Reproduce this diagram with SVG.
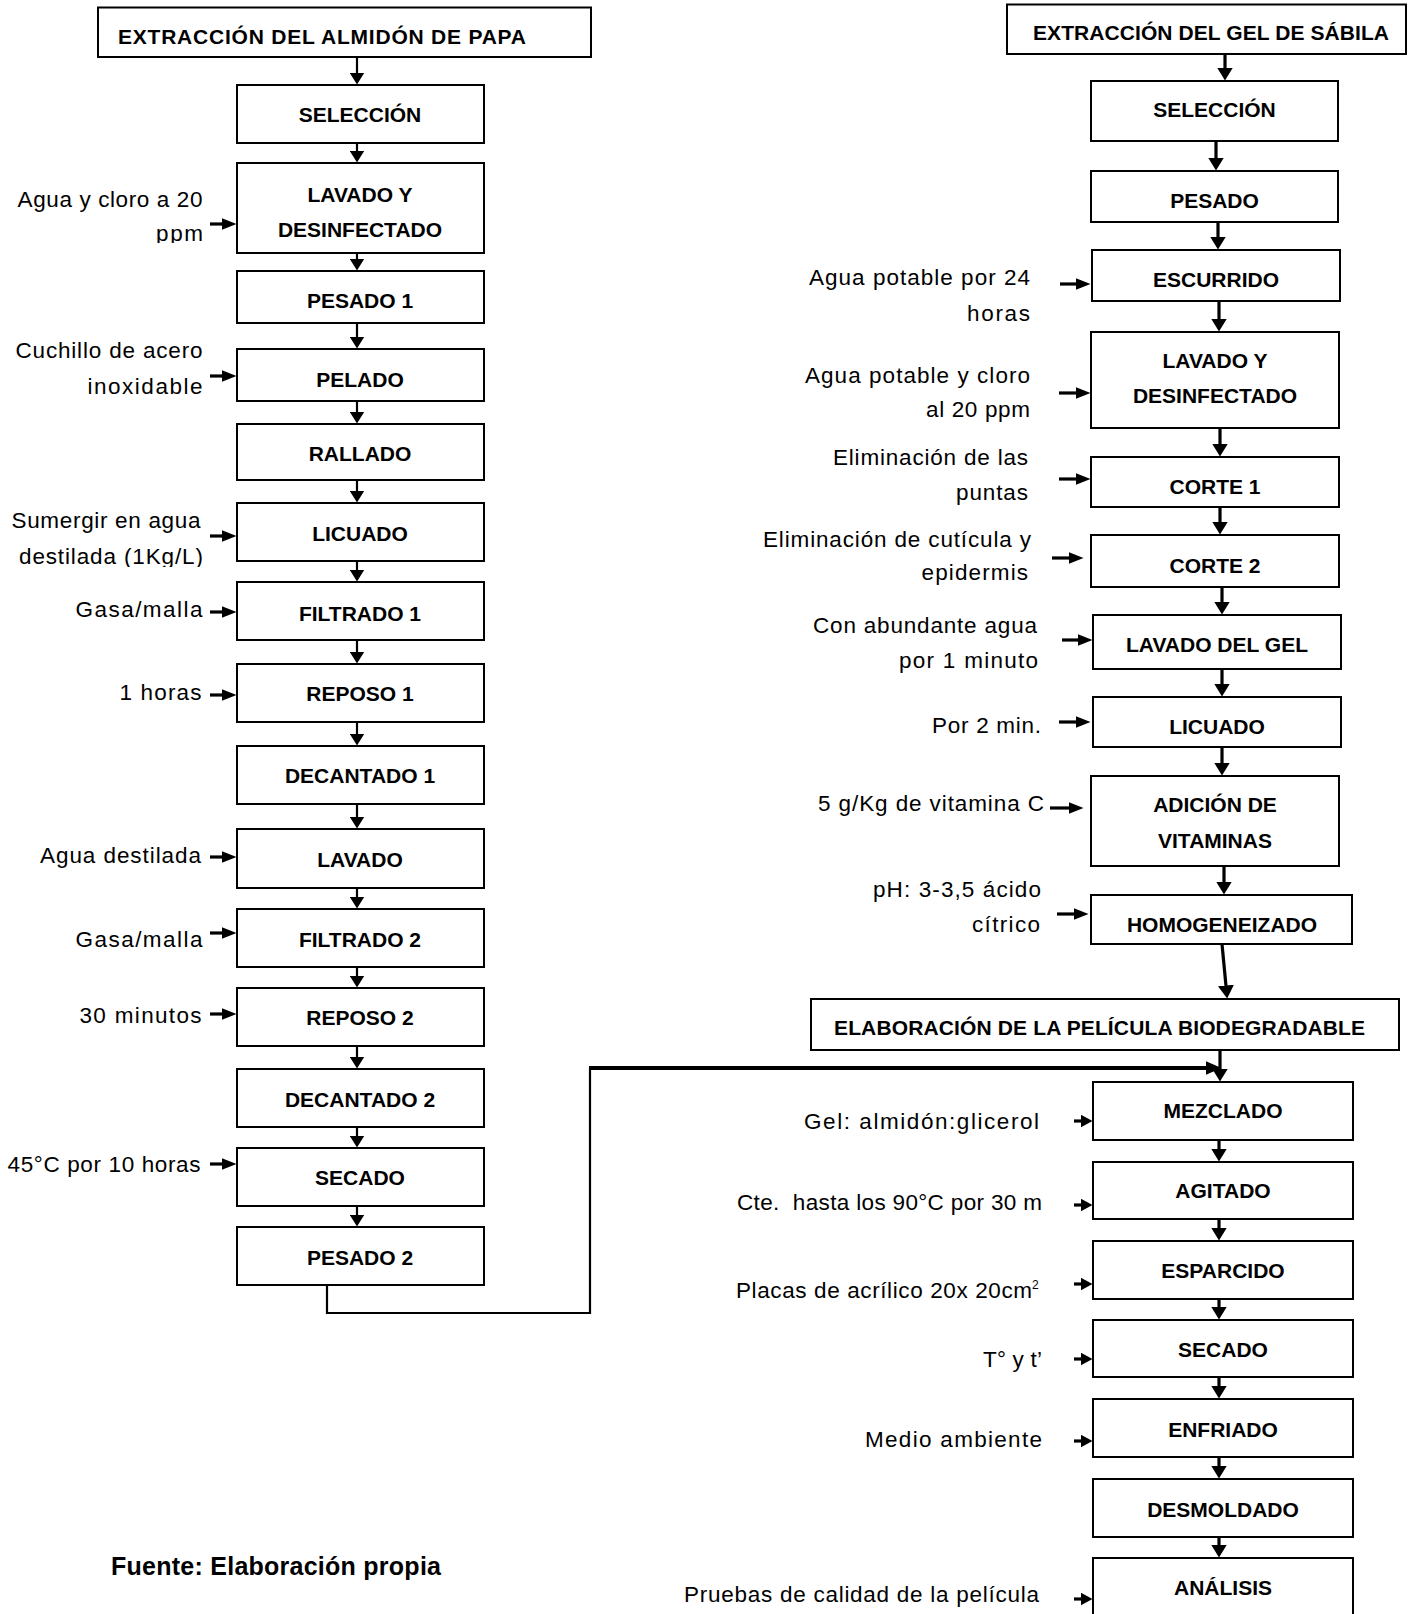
<svg xmlns="http://www.w3.org/2000/svg" width="1416" height="1614" viewBox="0 0 1416 1614">
<style>
.box{fill:#fff;stroke:#000;stroke-width:2}
.bt{font-family:"Liberation Sans",Arial,sans-serif;font-weight:bold;font-size:21px;text-anchor:middle;fill:#000}
.tt{font-family:"Liberation Sans",Arial,sans-serif;font-weight:bold;font-size:21px;fill:#000}
.lb{font-family:"Liberation Sans",Arial,sans-serif;font-size:22.5px;fill:#000}
.ft{font-family:"Liberation Sans",Arial,sans-serif;font-weight:bold;font-size:25px;fill:#000}
.c2{stroke:#000;stroke-width:2.2;fill:none}
.c3{stroke:#000;stroke-width:3.2;fill:none}
</style>
<defs>
<marker id="mL" markerUnits="userSpaceOnUse" orient="auto" markerWidth="12" markerHeight="15" refX="0.5" refY="7.5"><path d="M0,0 L12,7.5 L0,15 Z" fill="#000"/></marker>
<marker id="mR" markerUnits="userSpaceOnUse" orient="auto" markerWidth="13" markerHeight="16" refX="0.5" refY="8"><path d="M0,0 L13,8 L0,16 Z" fill="#000"/></marker>
<marker id="mS" markerUnits="userSpaceOnUse" orient="auto" markerWidth="15" markerHeight="12" refX="0.5" refY="6"><path d="M0,0 L15,6 L0,12 Z" fill="#000"/></marker>
<marker id="mB" markerUnits="userSpaceOnUse" orient="auto" markerWidth="12" markerHeight="13" refX="0.5" refY="6.5"><path d="M0,0 L12,6.5 L0,13 Z" fill="#000"/></marker>
<marker id="mC" markerUnits="userSpaceOnUse" orient="auto" markerWidth="16" markerHeight="14" refX="0.5" refY="7"><path d="M0,0 L16,7 L0,14 Z" fill="#000"/></marker>
<clipPath id="clipPpm"><rect x="0" y="0" width="232" height="243"/></clipPath>
<clipPath id="clipDest"><rect x="0" y="540" width="232" height="27"/></clipPath>
</defs>

<g id="connectors">
<line class="c2" x1="357" y1="57" x2="357" y2="73" marker-end="url(#mL)"/>
<line class="c2" x1="357" y1="143" x2="357" y2="151" marker-end="url(#mL)"/>
<line class="c2" x1="357" y1="253" x2="357" y2="259" marker-end="url(#mL)"/>
<line class="c2" x1="357" y1="323" x2="357" y2="337" marker-end="url(#mL)"/>
<line class="c2" x1="357" y1="401" x2="357" y2="412" marker-end="url(#mL)"/>
<line class="c2" x1="357" y1="480" x2="357" y2="491" marker-end="url(#mL)"/>
<line class="c2" x1="357" y1="561" x2="357" y2="570" marker-end="url(#mL)"/>
<line class="c2" x1="357" y1="640" x2="357" y2="652" marker-end="url(#mL)"/>
<line class="c2" x1="357" y1="722" x2="357" y2="734" marker-end="url(#mL)"/>
<line class="c2" x1="357" y1="804" x2="357" y2="817" marker-end="url(#mL)"/>
<line class="c2" x1="357" y1="888" x2="357" y2="897" marker-end="url(#mL)"/>
<line class="c2" x1="357" y1="967" x2="357" y2="976" marker-end="url(#mL)"/>
<line class="c2" x1="357" y1="1046" x2="357" y2="1057" marker-end="url(#mL)"/>
<line class="c2" x1="357" y1="1127" x2="357" y2="1136" marker-end="url(#mL)"/>
<line class="c2" x1="357" y1="1206" x2="357" y2="1215" marker-end="url(#mL)"/>
<line class="c3" x1="210" y1="224" x2="222" y2="224" marker-end="url(#mS)"/>
<line class="c3" x1="210" y1="376" x2="222" y2="376" marker-end="url(#mS)"/>
<line class="c3" x1="210" y1="536" x2="222" y2="536" marker-end="url(#mS)"/>
<line class="c3" x1="210" y1="612" x2="222" y2="612" marker-end="url(#mS)"/>
<line class="c3" x1="210" y1="695" x2="222" y2="695" marker-end="url(#mS)"/>
<line class="c3" x1="210" y1="857" x2="222" y2="857" marker-end="url(#mS)"/>
<line class="c3" x1="210" y1="933" x2="222" y2="933" marker-end="url(#mS)"/>
<line class="c3" x1="210" y1="1014" x2="222" y2="1014" marker-end="url(#mS)"/>
<line class="c3" x1="210" y1="1164" x2="222" y2="1164" marker-end="url(#mS)"/>
<line class="c3" x1="1225" y1="54" x2="1225" y2="68" marker-end="url(#mR)"/>
<line class="c3" x1="1216" y1="141" x2="1216" y2="158" marker-end="url(#mR)"/>
<line class="c3" x1="1218" y1="222" x2="1218" y2="237" marker-end="url(#mR)"/>
<line class="c3" x1="1219" y1="301" x2="1219" y2="319" marker-end="url(#mR)"/>
<line class="c3" x1="1220" y1="428" x2="1220" y2="444" marker-end="url(#mR)"/>
<line class="c3" x1="1220" y1="507" x2="1220" y2="522" marker-end="url(#mR)"/>
<line class="c3" x1="1222" y1="587" x2="1222" y2="602" marker-end="url(#mR)"/>
<line class="c3" x1="1222" y1="669" x2="1222" y2="684" marker-end="url(#mR)"/>
<line class="c3" x1="1222" y1="747" x2="1222" y2="763" marker-end="url(#mR)"/>
<line class="c3" x1="1224" y1="866" x2="1224" y2="882" marker-end="url(#mR)"/>
<line class="c3" x1="1222" y1="944" x2="1226" y2="986" marker-end="url(#mR)"/>
<line class="c3" x1="1060" y1="284" x2="1076" y2="284" marker-end="url(#mS)"/>
<line class="c3" x1="1059" y1="393" x2="1076" y2="393" marker-end="url(#mS)"/>
<line class="c3" x1="1059" y1="479" x2="1076" y2="479" marker-end="url(#mS)"/>
<line class="c3" x1="1052" y1="558" x2="1069" y2="558" marker-end="url(#mS)"/>
<line class="c3" x1="1062" y1="640" x2="1078" y2="640" marker-end="url(#mS)"/>
<line class="c3" x1="1059" y1="722" x2="1076" y2="722" marker-end="url(#mS)"/>
<line class="c3" x1="1050" y1="808" x2="1069" y2="808" marker-end="url(#mS)"/>
<line class="c3" x1="1057" y1="914" x2="1074" y2="914" marker-end="url(#mS)"/>
<polyline class="c2" points="327,1285 327,1313 590,1313 590,1068"/>
<line stroke="#000" stroke-width="4" x1="589" y1="1068" x2="1206" y2="1068" marker-end="url(#mC)"/>
<line class="c3" x1="1220" y1="1050" x2="1220" y2="1069" marker-end="url(#mR)"/>
<line class="c3" x1="1219" y1="1140" x2="1219" y2="1149" marker-end="url(#mR)"/>
<line class="c3" x1="1219" y1="1219" x2="1219" y2="1228" marker-end="url(#mR)"/>
<line class="c3" x1="1219" y1="1299" x2="1219" y2="1307" marker-end="url(#mR)"/>
<line class="c3" x1="1219" y1="1377" x2="1219" y2="1386" marker-end="url(#mR)"/>
<line class="c3" x1="1219" y1="1457" x2="1219" y2="1466" marker-end="url(#mR)"/>
<line class="c3" x1="1219" y1="1537" x2="1219" y2="1545" marker-end="url(#mR)"/>
<line class="c3" x1="1074" y1="1121" x2="1081" y2="1121" marker-end="url(#mB)"/>
<line class="c3" x1="1074" y1="1205" x2="1081" y2="1205" marker-end="url(#mB)"/>
<line class="c3" x1="1074" y1="1284" x2="1081" y2="1284" marker-end="url(#mB)"/>
<line class="c3" x1="1074" y1="1359" x2="1081" y2="1359" marker-end="url(#mB)"/>
<line class="c3" x1="1074" y1="1441" x2="1081" y2="1441" marker-end="url(#mB)"/>
<line class="c3" x1="1074" y1="1599" x2="1081" y2="1599" marker-end="url(#mB)"/>
</g>

<g id="t-almidon"><rect class="box" x="98" y="7.5" width="493" height="49.5"/><text class="tt" x="118" y="44" textLength="408">EXTRACCIÓN  DEL ALMIDÓN DE PAPA</text></g>
<g id="l-seleccion"><rect class="box" x="237" y="85" width="247" height="58"/><text class="bt" x="360" y="122">SELECCIÓN</text></g>
<g id="l-lavado-desinf"><rect class="box" x="237" y="163" width="247" height="90"/><text class="bt" x="360" y="202">LAVADO Y</text><text class="bt" x="360" y="237">DESINFECTADO</text></g>
<g id="l-pesado1"><rect class="box" x="237" y="271" width="247" height="52"/><text class="bt" x="360" y="308">PESADO 1</text></g>
<g id="l-pelado"><rect class="box" x="237" y="349" width="247" height="52"/><text class="bt" x="360" y="387">PELADO</text></g>
<g id="l-rallado"><rect class="box" x="237" y="424" width="247" height="56"/><text class="bt" x="360" y="461">RALLADO</text></g>
<g id="l-licuado"><rect class="box" x="237" y="503" width="247" height="58"/><text class="bt" x="360" y="541">LICUADO</text></g>
<g id="l-filtrado1"><rect class="box" x="237" y="582" width="247" height="58"/><text class="bt" x="360" y="621">FILTRADO  1</text></g>
<g id="l-reposo1"><rect class="box" x="237" y="664" width="247" height="58"/><text class="bt" x="360" y="701">REPOSO 1</text></g>
<g id="l-decantado1"><rect class="box" x="237" y="746" width="247" height="58"/><text class="bt" x="360" y="783">DECANTADO  1</text></g>
<g id="l-lavado"><rect class="box" x="237" y="829" width="247" height="59"/><text class="bt" x="360" y="867">LAVADO</text></g>
<g id="l-filtrado2"><rect class="box" x="237" y="909" width="247" height="58"/><text class="bt" x="360" y="947">FILTRADO  2</text></g>
<g id="l-reposo2"><rect class="box" x="237" y="988" width="247" height="58"/><text class="bt" x="360" y="1025">REPOSO 2</text></g>
<g id="l-decantado2"><rect class="box" x="237" y="1069" width="247" height="58"/><text class="bt" x="360" y="1107">DECANTADO  2</text></g>
<g id="l-secado"><rect class="box" x="237" y="1148" width="247" height="58"/><text class="bt" x="360" y="1185">SECADO</text></g>
<g id="l-pesado2"><rect class="box" x="237" y="1227" width="247" height="58"/><text class="bt" x="360" y="1265">PESADO  2</text></g>

<g id="left-labels">
<text class="lb" x="17.5" y="207" textLength="185">Agua y cloro a 20</text>
<text class="lb" x="156" y="241" textLength="47" clip-path="url(#clipPpm)">ppm</text>
<text class="lb" x="15.5" y="358" textLength="187">Cuchillo de acero</text>
<text class="lb" x="87.5" y="394" textLength="115">inoxidable</text>
<text class="lb" x="11.5" y="528" textLength="189">Sumergir en agua</text>
<text class="lb" x="19" y="564" textLength="184" clip-path="url(#clipDest)">destilada (1Kg/L)</text>
<text class="lb" x="75.5" y="617" textLength="127">Gasa/malla</text>
<text class="lb" x="119.5" y="700" textLength="82">1 horas</text>
<text class="lb" x="40" y="863" textLength="161">Agua destilada</text>
<text class="lb" x="75.5" y="947" textLength="127">Gasa/malla</text>
<text class="lb" x="79.5" y="1023" textLength="122">30 minutos</text>
<text class="lb" x="7.5" y="1172" textLength="193">45°C por 10 horas</text>
</g>

<g id="t-sabila"><rect class="box" x="1007" y="4.5" width="399" height="49.5"/><text class="tt" x="1033" y="40" textLength="356">EXTRACCIÓN  DEL GEL DE SÁBILA</text></g>
<g id="r-seleccion"><rect class="box" x="1091" y="81" width="247" height="60"/><text class="bt" x="1214.5" y="117">SELECCIÓN</text></g>
<g id="r-pesado"><rect class="box" x="1091" y="171" width="247" height="51"/><text class="bt" x="1214.5" y="208">PESADO</text></g>
<g id="r-escurrido"><rect class="box" x="1092" y="250" width="248" height="51"/><text class="bt" x="1216" y="287">ESCURRIDO</text></g>
<g id="r-lavado-desinf"><rect class="box" x="1091" y="332" width="248" height="96"/><text class="bt" x="1215" y="368">LAVADO Y</text><text class="bt" x="1215" y="403">DESINFECTADO</text></g>
<g id="r-corte1"><rect class="box" x="1091" y="457" width="248" height="50"/><text class="bt" x="1215" y="494">CORTE  1</text></g>
<g id="r-corte2"><rect class="box" x="1091" y="535" width="248" height="52"/><text class="bt" x="1215" y="573">CORTE  2</text></g>
<g id="r-lavado-gel"><rect class="box" x="1093" y="615" width="248" height="54"/><text class="bt" x="1217" y="652">LAVADO DEL GEL</text></g>
<g id="r-licuado"><rect class="box" x="1093" y="697" width="248" height="50"/><text class="bt" x="1217" y="734">LICUADO</text></g>
<g id="r-adicion"><rect class="box" x="1091" y="776" width="248" height="90"/><text class="bt" x="1215" y="812">ADICIÓN  DE</text><text class="bt" x="1215" y="848">VITAMINAS</text></g>
<g id="r-homog"><rect class="box" x="1091" y="895" width="261" height="49"/><text class="bt" x="1222" y="932">HOMOGENEIZADO</text></g>

<g id="right-labels">
<text class="lb" x="809" y="285" textLength="221">Agua potable por 24</text>
<text class="lb" x="967" y="321" textLength="63">horas</text>
<text class="lb" x="805" y="383" textLength="225">Agua potable y cloro</text>
<text class="lb" x="926" y="417" textLength="104">al 20 ppm</text>
<text class="lb" x="833" y="465" textLength="195">Eliminación de las</text>
<text class="lb" x="956" y="500" textLength="72">puntas</text>
<text class="lb" x="763" y="547" textLength="268">Eliminación de cutícula y</text>
<text class="lb" x="921.5" y="580" textLength="106.5">epidermis</text>
<text class="lb" x="813" y="633" textLength="224">Con abundante agua</text>
<text class="lb" x="899" y="668" textLength="139">por 1 minuto</text>
<text class="lb" x="932" y="733" textLength="109">Por 2 min.</text>
<text class="lb" x="818" y="811" textLength="226">5 g/Kg de vitamina C</text>
<text class="lb" x="873" y="897" textLength="168">pH: 3-3,5 ácido</text>
<text class="lb" x="972" y="932" textLength="68">cítrico</text>
</g>

<g id="t-pelicula"><rect class="box" x="811" y="999" width="588" height="51"/><text class="tt" x="834" y="1035" textLength="531">ELABORACIÓN  DE LA PELÍCULA  BIODEGRADABLE</text></g>
<g id="b-mezclado"><rect class="box" x="1093" y="1082" width="260" height="58"/><text class="bt" x="1223" y="1118">MEZCLADO</text></g>
<g id="b-agitado"><rect class="box" x="1093" y="1162" width="260" height="57"/><text class="bt" x="1223" y="1198">AGITADO</text></g>
<g id="b-esparcido"><rect class="box" x="1093" y="1241" width="260" height="58"/><text class="bt" x="1223" y="1277.5">ESPARCIDO</text></g>
<g id="b-secado"><rect class="box" x="1093" y="1320" width="260" height="57"/><text class="bt" x="1223" y="1356.5">SECADO</text></g>
<g id="b-enfriado"><rect class="box" x="1093" y="1399" width="260" height="58"/><text class="bt" x="1223" y="1437">ENFRIADO</text></g>
<g id="b-desmoldado"><rect class="box" x="1093" y="1479" width="260" height="58"/><text class="bt" x="1223" y="1516.5">DESMOLDADO</text></g>
<g id="b-analisis"><rect class="box" x="1093" y="1558" width="260" height="64"/><text class="bt" x="1223" y="1595">ANÁLISIS</text></g>

<g id="bottom-labels">
<text class="lb" x="804" y="1129" textLength="235">Gel: almidón:glicerol</text>
<text class="lb" x="737" y="1210" textLength="305" style="white-space:pre">Cte.  hasta los 90°C por 30 m</text>
<text class="lb" x="736" y="1298" textLength="296">Placas de acrílico 20x 20cm</text>
<text class="lb" x="1032" y="1289" style="font-size:12px">2</text>
<text class="lb" x="983" y="1367" textLength="59">T° y t’</text>
<text class="lb" x="865" y="1447" textLength="177">Medio ambiente</text>
<text class="lb" x="684" y="1602" textLength="355">Pruebas de calidad de la película</text>
</g>

<text class="ft" x="111" y="1575" textLength="330">Fuente: Elaboración propia</text>
</svg>
